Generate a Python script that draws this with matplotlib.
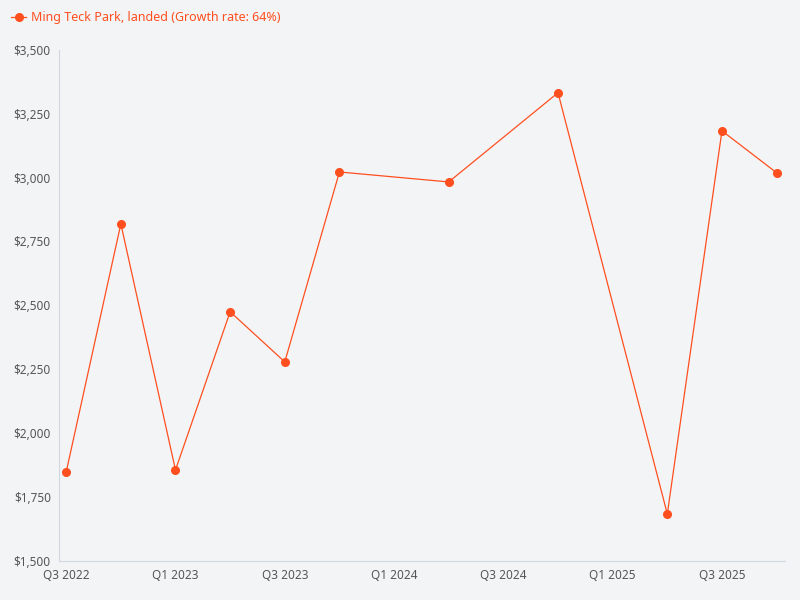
import matplotlib.pyplot as plt
from matplotlib.ticker import FuncFormatter

# data
quarters = ["Q3 2022", "Q4 2022", "Q1 2023", "Q2 2023", "Q3 2023", "Q4 2023",
            "Q1 2024", "Q2 2024", "Q3 2024", "Q4 2024", "Q1 2025", "Q2 2025",
            "Q3 2025", "Q4 2025"]
point_quarters = ["Q3 2022", "Q4 2022", "Q1 2023", "Q2 2023", "Q3 2023", "Q4 2023",
                  "Q2 2024", "Q4 2024", "Q2 2025", "Q3 2025", "Q4 2025"]
prices = [1848, 2819, 1856, 2475, 2279, 3022, 2983, 3332, 1684, 3183, 3019]

ORANGE = "#ff4f1f"
BG = "#f3f4f6"

plt.rcParams["font.family"] = ["Noto Sans", "DejaVu Sans"]

fig = plt.figure(figsize=(8, 6), dpi=100, facecolor=BG)
ax = fig.add_axes([0.074, 0.065, 0.907, 0.852], facecolor=BG)

xs = [quarters.index(q) for q in point_quarters]
line, = ax.plot(xs, prices, color=ORANGE, lw=0.9, marker="o", ms=5.5,
                label="Ming Teck Park, landed (Growth rate: 64%)")

ax.set_xlim(-0.128, 13.15)
ax.set_ylim(1500, 3500)
ax.set_yticks(range(1500, 3501, 250))
ax.yaxis.set_major_formatter(FuncFormatter(lambda v, p: f"${v:,.0f}"))
ax.set_xticks(range(0, len(quarters), 2))
ax.set_xticklabels(quarters[::2])

for s in ["top", "right"]:
    ax.spines[s].set_visible(False)
for s in ["left", "bottom"]:
    ax.spines[s].set_color("#d0d7e0")
ax.tick_params(colors="#555555", labelsize=8.5, length=0, pad=6)

leg = fig.legend(handles=[line], loc="upper left", bbox_to_anchor=(0.0, 1.0),
                 frameon=False, fontsize=9,
                 handlelength=1.2, handletextpad=0.4)
for t in leg.get_texts():
    t.set_fontweight("bold")
    t.set_color(ORANGE)

fig.savefig("out.png", facecolor=BG)
